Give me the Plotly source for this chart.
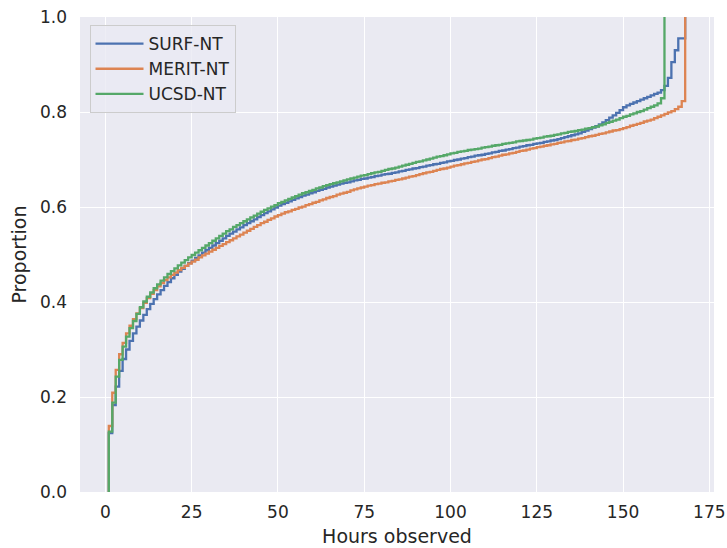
import plotly.graph_objects as go

# ECDF values (proportion at each observed hour)
surf_nt = [
    .124, .183, .222, .255, .280, .300, .318, .334, .348, .361,
    .373, .385, .396, .406, .416, .425, .434, .442, .450, .457,
    .464, .470, .476, .482, .487, .493, .498, .504, .509, .514,
    .519, .524, .529, .534, .539, .544, .548, .553, .557, .562,
    .566, .570, .574, .579, .583, .587, .591, .595, .599, .603,
    .606, .609, .612, .615, .618, .621, .624, .626, .629, .631,
    .634, .636, .638, .641, .643, .645, .647, .649, .651, .652,
    .654, .656, .657, .659, .660, .662, .663, .665, .666, .668,
    .669, .670, .672, .673, .675, .676, .678, .679, .681, .682,
    .684, .685, .687, .688, .690, .691, .693, .694, .696, .697,
    .699, .700, .702, .703, .705, .706, .708, .709, .710, .712,
    .713, .715, .716, .718, .719, .721, .722, .724, .725, .727,
    .728, .730, .731, .733, .734, .735, .737, .738, .740, .741,
    .743, .745, .747, .749, .751, .753, .755, .758, .761, .764,
    .767, .770, .774, .778, .783, .788, .793, .798, .804, .810,
    .814, .817, .820, .823, .826, .829, .832, .835, .838, .841,
    .846, .855, .872, .905, .930, .955, .955, 1.0,
]
merit_nt = [
    .139, .209, .257, .290, .314, .334, .350, .364, .376, .387,
    .398, .408, .417, .425, .433, .440, .446, .452, .457, .462,
    .467, .472, .476, .481, .485, .489, .494, .498, .502, .506,
    .510, .514, .518, .522, .526, .530, .534, .538, .542, .546,
    .550, .554, .558, .562, .566, .569, .573, .576, .580, .583,
    .586, .589, .591, .594, .596, .599, .601, .604, .606, .609,
    .611, .614, .616, .619, .621, .623, .626, .628, .630, .632,
    .635, .637, .639, .641, .643, .645, .646, .648, .649, .651,
    .652, .654, .655, .657, .658, .660, .662, .664, .665, .667,
    .669, .671, .673, .674, .676, .678, .680, .681, .683, .685,
    .687, .688, .690, .692, .693, .695, .696, .698, .700, .701,
    .703, .705, .706, .708, .710, .711, .713, .714, .716, .718,
    .719, .721, .723, .724, .726, .727, .729, .730, .732, .733,
    .735, .736, .738, .739, .741, .742, .744, .745, .747, .749,
    .750, .752, .754, .755, .757, .759, .761, .762, .764, .766,
    .768, .771, .773, .775, .777, .780, .782, .784, .787, .790,
    .793, .796, .799, .802, .806, .811, .823, 1.0,
]
ucsd_nt = [
    .127, .188, .243, .278, .306, .327, .345, .360, .375, .389,
    .401, .411, .420, .429, .437, .445, .452, .459, .465, .471,
    .477, .483, .488, .494, .499, .504, .509, .514, .519, .524,
    .529, .534, .539, .544, .549, .553, .558, .562, .566, .570,
    .574, .578, .582, .586, .590, .594, .597, .601, .604, .608,
    .611, .614, .617, .620, .623, .626, .629, .631, .634, .636,
    .639, .641, .644, .646, .648, .650, .652, .654, .656, .658,
    .660, .662, .664, .666, .667, .669, .671, .673, .674, .676,
    .678, .680, .681, .683, .685, .687, .689, .691, .693, .695,
    .696, .698, .700, .702, .704, .706, .707, .709, .711, .713,
    .714, .716, .717, .718, .720, .721, .722, .723, .725, .726,
    .727, .729, .730, .731, .733, .734, .735, .736, .738, .739,
    .740, .741, .742, .744, .745, .746, .748, .749, .750, .752,
    .753, .755, .756, .758, .759, .760, .762, .763, .765, .766,
    .768, .769, .772, .774, .777, .779, .782, .784, .787, .790,
    .792, .795, .797, .800, .802, .805, .808, .811, .814, .818,
    .829, 1.0,
]

series_names = ["SURF-NT", "MERIT-NT", "UCSD-NT"]
series_values = [surf_nt, merit_nt, ucsd_nt]
series_colors = ["#4c72b0", "#dd8452", "#55a868"]

x_ticks = [0, 25, 50, 75, 100, 125, 150, 175]
y_ticks = [0.0, 0.2, 0.4, 0.6, 0.8, 1.0]

FONT = "DejaVu Sans"
TXT = "#262626"

fig = go.Figure()
for name, vals, col in zip(series_names, series_values, series_colors):
    hours = list(range(1, len(vals) + 1))
    xs = [hours[0]] + hours
    ys = [0.0] + vals
    fig.add_trace(go.Scatter(
        x=xs, y=ys, mode="lines", name=name,
        line=dict(color=col, width=2.3, shape="hv"),
    ))

fig.update_layout(
    width=727, height=548,
    margin=dict(l=80, r=13, t=17, b=56),
    paper_bgcolor="white",
    plot_bgcolor="#eaeaf2",
    font=dict(family=FONT, color=TXT, size=17),
    showlegend=True,
    legend=dict(
        x=0.015, y=0.983, xanchor="left", yanchor="top",
        bgcolor="rgba(234,234,242,0.8)",
        bordercolor="#cccccc", borderwidth=1,
        font=dict(family=FONT, size=17, color=TXT),
        itemwidth=48,
    ),
)
fig.update_xaxes(
    range=[-7.35, 176.35],
    tickvals=x_ticks,
    ticktext=[str(v) for v in x_ticks],
    showgrid=True, gridcolor="white", gridwidth=1.3,
    zeroline=False, showline=False, automargin=False,
    ticks="", ticklabelstandoff=8,
    tickfont=dict(size=17, family=FONT, color=TXT),
    title=dict(text="Hours observed", font=dict(size=19, family=FONT, color=TXT), standoff=8),
)
fig.update_yaxes(
    range=[0, 1],
    tickvals=y_ticks,
    ticktext=[f"{v:.1f}" for v in y_ticks],
    showgrid=True, gridcolor="white", gridwidth=1.3,
    zeroline=False, showline=False, automargin=False,
    ticks="", ticklabelstandoff=12,
    tickfont=dict(size=17, family=FONT, color=TXT),
    title=dict(text="Proportion", font=dict(size=19, family=FONT, color=TXT), standoff=8),
)

fig.write_html("out.html")
